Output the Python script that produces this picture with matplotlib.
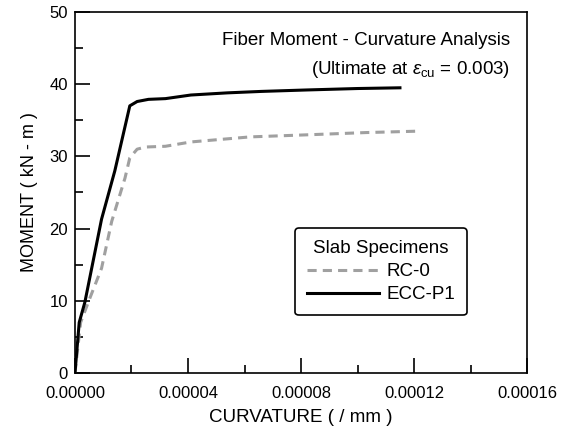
import matplotlib
matplotlib.use("Agg")
import matplotlib.pyplot as plt
from matplotlib.ticker import MultipleLocator, FormatStrFormatter

plt.rcParams['font.family'] = ['Liberation Sans', 'DejaVu Sans']
plt.rcParams['mathtext.fontset'] = 'custom'
plt.rcParams['mathtext.rm'] = 'Liberation Sans'
plt.rcParams['mathtext.it'] = 'Liberation Sans:italic'

# curvature (1/mm) vs moment (kN-m)
rc_curv = [0, 2.0e-6, 5.3e-6, 9.4e-6, 1.3e-5, 1.77e-5, 1.94e-5, 2.2e-5, 2.5e-5,
           3.2e-5, 4.1e-5, 6.2e-5, 8.3e-5, 1.03e-4, 1.22e-4]
rc_mom = [0, 7.0, 10.4, 14.5, 21.0, 27.0, 29.8, 31.0, 31.3,
          31.4, 32.0, 32.7, 33.0, 33.3, 33.5]

ecc_curv = [0, 1.5e-6, 3.5e-6, 9.4e-6, 1.41e-5, 1.94e-5, 2.2e-5, 2.6e-5, 3.2e-5,
            4.1e-5, 5.4e-5, 6.6e-5, 8.2e-5, 1.0e-4, 1.15e-4]
ecc_mom = [0, 7.0, 9.8, 21.3, 28.0, 37.0, 37.6, 37.9, 38.0,
           38.5, 38.8, 39.0, 39.2, 39.4, 39.5]

fig = plt.figure(figsize=(5.68, 4.28), dpi=100)
ax = fig.add_axes([0.132, 0.1285, 0.796, 0.8435])

ax.plot(rc_curv, rc_mom, color='#a0a0a0', lw=2.2, dashes=(3.0, 2.0), label='RC-0')
ax.plot(ecc_curv, ecc_mom, color='black', lw=2.2, label='ECC-P1')

ax.set_xlim(0, 0.00016)
ax.set_ylim(0, 50)
ax.xaxis.set_major_locator(MultipleLocator(0.00004))
ax.xaxis.set_minor_locator(MultipleLocator(0.00002))
ax.xaxis.set_major_formatter(FormatStrFormatter('%.5f'))
ax.yaxis.set_major_locator(MultipleLocator(10))
ax.yaxis.set_minor_locator(MultipleLocator(5))
ax.tick_params(which='both', direction='in', top=False, right=False, width=1.2)
ax.tick_params(which='major', length=11)
ax.tick_params(which='minor', length=5.5)
ax.tick_params(axis='x', labelsize=12, pad=9)
ax.tick_params(axis='y', labelsize=12, pad=5)
for s in ax.spines.values():
    s.set_linewidth(1.2)

ax.set_xlabel('CURVATURE ( / mm )', fontsize=13.5, labelpad=6)
ax.set_ylabel('MOMENT ( kN - m )', fontsize=13, labelpad=8)

ax.text(0.962, 0.92, 'Fiber Moment - Curvature Analysis', transform=ax.transAxes,
        ha='right', va='center', fontsize=13.5)
ax.text(0.962, 0.842, r'(Ultimate at $\varepsilon_{\rm cu}$ = 0.003)', transform=ax.transAxes,
        ha='right', va='center', fontsize=13.5)

leg = ax.legend(loc='upper left', bbox_to_anchor=(0.487, 0.402), title='Slab Specimens',
                fontsize=13.5, title_fontsize=13.5, handlelength=3.8, frameon=True,
                fancybox=True, edgecolor='black', framealpha=1, borderpad=0.65,
                labelspacing=0.32, handletextpad=0.4, borderaxespad=0)
leg.get_frame().set_linewidth(1.2)

fig.savefig('out.png', dpi=100)
